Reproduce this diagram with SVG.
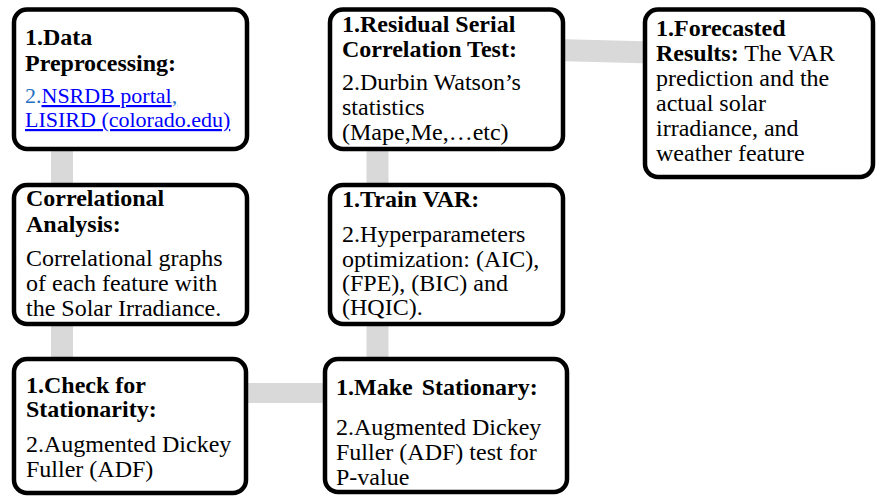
<svg xmlns="http://www.w3.org/2000/svg" width="876" height="497" viewBox="0 0 876 497">
<style>
.box{fill:#fff;stroke:#000;stroke-width:4.5}
.conn{stroke:#d9d9d9;stroke-width:22;fill:none}
text{font-family:"Liberation Serif","Times New Roman",serif;font-size:24px;fill:#000}
.b{font-weight:bold}
.link{fill:#0000ff;text-decoration:underline;font-size:22px}
.num{fill:#1f6fc0;font-size:22px}
</style>
<rect width="876" height="497" fill="#fff"/>
<g id="connectors">
<line class="conn" x1="62" y1="140" x2="62" y2="195"/>
<line class="conn" x1="62" y1="315" x2="62" y2="370"/>
<line class="conn" x1="240" y1="393" x2="332" y2="393" style="stroke-width:20"/>
<line class="conn" x1="377.5" y1="140" x2="377.5" y2="195"/>
<line class="conn" x1="377.5" y1="315" x2="377.5" y2="370"/>
<line class="conn" x1="556" y1="50" x2="653" y2="52.5"/>
</g>
<g id="data-preprocessing">
<rect class="box" x="14" y="9.5" width="233" height="139.5" rx="13"/>
<text class="b" x="25" y="45">1.Data</text>
<text class="b" x="25" y="71">Preprocessing:</text>
<text x="25" y="103"><tspan class="num">2.</tspan><tspan class="link">NSRDB portal</tspan><tspan class="num" text-decoration="underline">,</tspan></text>
<text class="link" x="25" y="127">LISIRD (colorado.edu)</text>
</g>
<g id="correlational-analysis">
<rect class="box" x="14" y="185" width="233" height="139" rx="13"/>
<text class="b" x="26" y="206">Correlational</text>
<text class="b" x="26" y="231.5">Analysis:</text>
<text x="26" y="266">Correlational graphs</text>
<text x="26" y="291">of each feature with</text>
<text x="26" y="316">the Solar Irradiance.</text>
</g>
<g id="check-stationarity">
<rect class="box" x="14" y="359" width="232" height="134" rx="13"/>
<text class="b" x="26" y="393">1.Check for</text>
<text class="b" x="26" y="417">Stationarity:</text>
<text x="26" y="452">2.Augmented Dickey</text>
<text x="26" y="477">Fuller (ADF)</text>
</g>
<g id="make-stationary">
<rect class="box" x="325" y="359" width="242" height="133" rx="13"/>
<text class="b" x="336" y="395" word-spacing="3">1.Make Stationary:</text>
<text x="336" y="435">2.Augmented Dickey</text>
<text x="336" y="460">Fuller (ADF) test for</text>
<text x="336" y="485">P-value</text>
</g>
<g id="train-var">
<rect class="box" x="330" y="185" width="233" height="139" rx="13"/>
<text class="b" x="342" y="207">1.Train VAR:</text>
<text x="342" y="242">2.Hyperparameters</text>
<text x="342" y="267">optimization: (AIC),</text>
<text x="342" y="291">(FPE), (BIC) and</text>
<text x="342" y="315">(HQIC).</text>
</g>
<g id="residual-test">
<rect class="box" x="330" y="9.5" width="233" height="139.5" rx="13"/>
<text class="b" x="342" y="32">1.Residual Serial</text>
<text class="b" x="342" y="57">Correlation Test:</text>
<text x="342" y="90">2.Durbin Watson’s</text>
<text x="342" y="115">statistics</text>
<text x="342" y="140">(Mape,Me,…etc)</text>
</g>
<g id="forecasted-results">
<rect class="box" x="645" y="9.5" width="228" height="167.5" rx="13"/>
<text class="b" x="656" y="36">1.Forecasted</text>
<text x="656" y="61"><tspan class="b">Results:</tspan> The VAR</text>
<text x="656" y="86">prediction and the</text>
<text x="656" y="111">actual solar</text>
<text x="656" y="136">irradiance, and</text>
<text x="656" y="161">weather feature</text>
</g>
</svg>
